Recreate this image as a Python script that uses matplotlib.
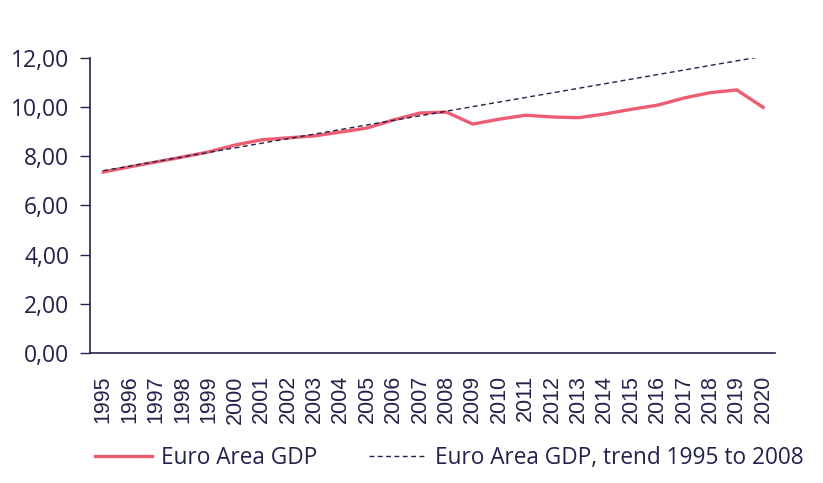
import numpy as np
import matplotlib
matplotlib.use("Agg")
import matplotlib.pyplot as plt
from matplotlib.ticker import FuncFormatter

years = list(range(1995, 2021))
gdp = [7.36, 7.57, 7.77, 7.97, 8.18, 8.46, 8.67, 8.75, 8.83, 8.99,
       9.15, 9.48, 9.76, 9.80, 9.31, 9.51, 9.67, 9.60, 9.57, 9.72,
       9.91, 10.08, 10.37, 10.59, 10.70, 9.99]
trend_start, trend_end = 1995, 2008

navy = "#22224a"
red = "#ec5d72"

plt.rcParams["font.family"] = ["Open Sans", "DejaVu Sans"]

fig = plt.figure(figsize=(8.23, 4.83), dpi=100)
ax = fig.add_axes([0.1094, 0.2692, 0.8323, 0.6108])

yrs = np.array(years)
vals = np.array(gdp)
mask = (yrs >= trend_start) & (yrs <= trend_end)
slope, intercept = np.polyfit(yrs[mask], vals[mask], 1)
trend = slope * yrs + intercept

ax.plot(yrs, vals, color=red, lw=2.4, solid_joinstyle="round",
        label="Euro Area GDP", zorder=3)
ax.plot(yrs, trend, color=navy, lw=1.0, dashes=(3.5, 2.5),
        label="Euro Area GDP, trend 1995 to 2008", zorder=4)

ax.set_xlim(1994.5, 2020.45)
ax.set_ylim(0, 12)
ax.set_yticks(np.arange(0, 12.01, 2))
ax.yaxis.set_major_formatter(FuncFormatter(lambda v, p: f"{v:.2f}".replace(".", ",")))
ax.set_xticks(years)
ax.set_xticklabels([str(y) for y in years], rotation=90,
                   fontfamily=["Liberation Sans", "DejaVu Sans"], fontsize=15.5,
                   color=navy)

for side in ("top", "right"):
    ax.spines[side].set_visible(False)
for side in ("left", "bottom"):
    ax.spines[side].set_color(navy)
    ax.spines[side].set_linewidth(1.2)

ax.tick_params(axis="y", length=7, width=1.0, color=navy, labelsize=16.5,
               labelcolor=navy, pad=8)
ax.tick_params(axis="x", length=0, pad=16)

handles, labels = ax.get_legend_handles_labels()
leg = fig.legend(handles, labels, loc="center left", bbox_to_anchor=(0.116, 0.052),
                 ncol=2, frameon=False, fontsize=16.3, handlelength=2.5,
                 handletextpad=0.4, columnspacing=2.3, borderaxespad=0,
                 borderpad=0)
for t in leg.get_texts():
    t.set_color(navy)

fig.savefig("out.png", dpi=100)
